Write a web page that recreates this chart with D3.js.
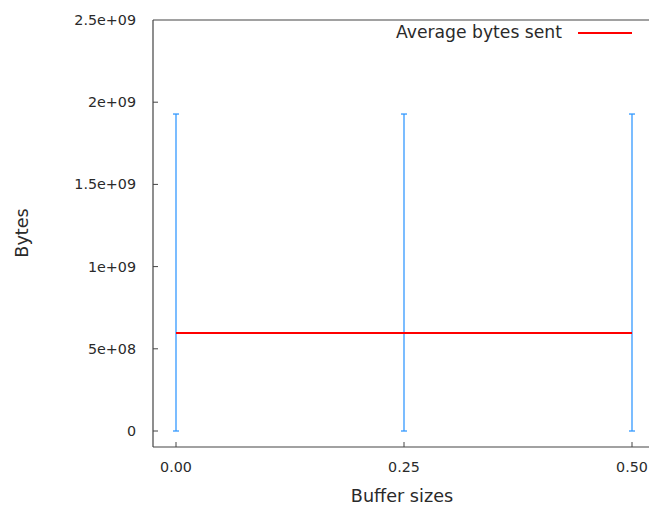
<!DOCTYPE html>
<html>
<head>
<meta charset="utf-8">
<script src="https://cdn.jsdelivr.net/npm/d3@7"></script>
<style>
  html, body { margin: 0; padding: 0; background: #fff; }
  svg { display: block; font-family: "DejaVu Sans", sans-serif; }
</style>
</head>
<body>
<svg id="chart" width="649" height="508"></svg>
<script>
// Buffer sizes tested and the measured bytes sent
const bufferSizes = [0.00, 0.25, 0.50];
const avgBytes = [5.96e8, 5.96e8, 5.96e8];
const errLow = [0, 0, 0];
const errHigh = [1.928e9, 1.928e9, 1.928e9];
const yTicks = [0, 5e8, 1e9, 1.5e9, 2e9, 2.5e9];
const yTickLabels = ["0", "5e+08", "1e+09", "1.5e+09", "2e+09", "2.5e+09"];
const xTicks = [0.00, 0.25, 0.50];
const xTickLabels = ["0.00", "0.25", "0.50"];

const svg = d3.select("#chart");
const plotLeft = 153, plotTop = 20, plotBottom = 447, plotRight = 649;

const x = d3.scaleLinear().domain([0, 0.5]).range([176, 632]);
const y = d3.scaleLinear().domain([0, 2.5e9]).range([431, 20]);

const axisColor = "#444";
const textColor = "#2a2a2a";

// frame: left, top and bottom lines
svg.append("line").attr("x1", plotLeft).attr("x2", plotLeft).attr("y1", plotTop).attr("y2", plotBottom)
  .attr("stroke", axisColor).attr("stroke-width", 1.2);
svg.append("line").attr("x1", plotLeft).attr("x2", plotRight).attr("y1", plotTop).attr("y2", plotTop)
  .attr("stroke", axisColor).attr("stroke-width", 1.2);
svg.append("line").attr("x1", plotLeft).attr("x2", plotRight).attr("y1", plotBottom).attr("y2", plotBottom)
  .attr("stroke", axisColor).attr("stroke-width", 1.2);

// y ticks (inward) and labels
const yg = svg.append("g");
yTicks.forEach((t, i) => {
  if (i < yTicks.length - 1) {
    yg.append("line").attr("x1", plotLeft).attr("x2", plotLeft + 5)
      .attr("y1", y(t)).attr("y2", y(t)).attr("stroke", axisColor);
  }
  yg.append("text").attr("x", 136).attr("y", y(t)).attr("dy", "0.35em")
    .attr("text-anchor", "end").attr("font-size", 14.3).attr("fill", textColor)
    .text(yTickLabels[i]);
});

// x ticks (inward) and labels
const xg = svg.append("g");
xTicks.forEach((t, i) => {
  xg.append("line").attr("x1", x(t)).attr("x2", x(t))
    .attr("y1", plotBottom).attr("y2", plotBottom - 5).attr("stroke", axisColor);
  xg.append("text").attr("x", x(t)).attr("y", 467).attr("dy", "0.35em")
    .attr("text-anchor", "middle").attr("font-size", 14.3).attr("fill", textColor)
    .text(xTickLabels[i]);
});

// axis titles
svg.append("text").attr("x", 402).attr("y", 502).attr("text-anchor", "middle")
  .attr("font-size", 17.6).attr("fill", textColor).text("Buffer sizes");
svg.append("text").attr("transform", "translate(28,233) rotate(-90)")
  .attr("text-anchor", "middle").attr("font-size", 17.6).attr("fill", textColor).text("Bytes");

// error bars
const errColor = "#3399ff";
const eb = svg.append("g");
bufferSizes.forEach((b, i) => {
  eb.append("line").attr("x1", x(b)).attr("x2", x(b))
    .attr("y1", y(errLow[i])).attr("y2", y(errHigh[i]))
    .attr("stroke", errColor).attr("stroke-width", 1.3);
  [errLow[i], errHigh[i]].forEach(v => {
    eb.append("line").attr("x1", x(b) - 3).attr("x2", x(b) + 3)
      .attr("y1", y(v)).attr("y2", y(v)).attr("stroke", errColor).attr("stroke-width", 1.3);
  });
});

// average line
const line = d3.line().x((d, i) => x(bufferSizes[i])).y(d => y(d));
svg.append("path").datum(avgBytes).attr("d", line)
  .attr("fill", "none").attr("stroke", "#ff0000").attr("stroke-width", 2);

// legend
svg.append("text").attr("x", 562).attr("y", 32).attr("dy", "0.35em")
  .attr("text-anchor", "end").attr("font-size", 17.2).attr("fill", textColor)
  .text("Average bytes sent");
svg.append("line").attr("x1", 578).attr("x2", 632).attr("y1", 33).attr("y2", 33)
  .attr("stroke", "#ff0000").attr("stroke-width", 2);
</script>
</body>
</html>
